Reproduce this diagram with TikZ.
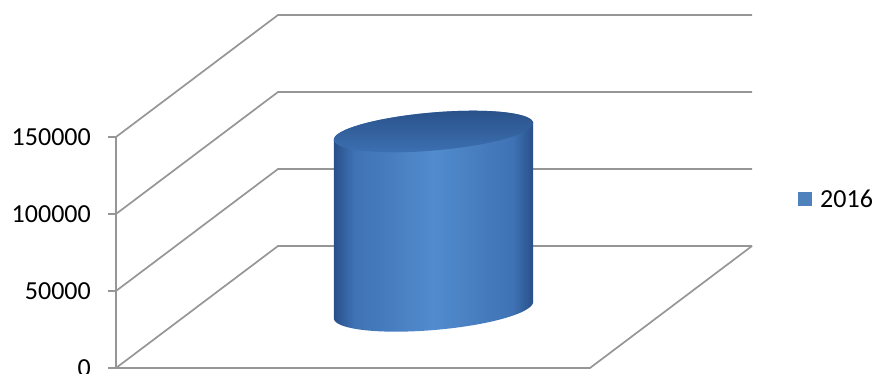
\documentclass[tikz,border=0pt]{standalone}
\usepackage{fontspec}
\setmainfont{Carlito}
\definecolor{gridgray}{RGB}{150,150,150}
\definecolor{legblue}{RGB}{79,129,189}
\definecolor{cyldark}{RGB}{40,80,138}
\definecolor{cylmid}{RGB}{62,114,180}
\definecolor{cyllight}{RGB}{82,140,206}
\definecolor{topdark}{RGB}{42,82,138}
\definecolor{topmid}{RGB}{60,112,178}
\pgfdeclarehorizontalshading{cylshade}{100bp}{color(0bp)=(cyldark); color(25bp)=(cyldark); color(30bp)=(cylmid); color(50bp)=(cyllight); color(70bp)=(cylmid); color(75bp)=(cyldark); color(100bp)=(cyldark)}
\begin{document}
\begin{tikzpicture}[x=1pt,y=1pt,
  grid/.style={draw=gridgray, line width=1.7pt},
  axislabel/.style={anchor=east, font=\fontsize{26}{31}\selectfont, inner sep=0pt},
  legtext/.style={anchor=west, font=\fontsize{26}{31}\selectfont, inner sep=0pt}]
\useasboundingbox (0,0) rectangle (875,374);
% walls and floor
\foreach \i/\lab in {0/0,1/50000,2/100000,3/150000} {
  \pgfmathsetmacro\Y{6+77*\i}
  \coordinate (f\i) at (116,\Y);
  \coordinate (b\i) at (278,\Y+122);
  \coordinate (r\i) at (752,\Y+122);
  \coordinate (t\i) at (108,\Y);
  \draw[grid] (f\i) -- (b\i) -- (r\i);
  \draw[grid] (t\i) -- (f\i);
  \node[axislabel] (l\i) at (91,\Y) {\lab};
}
\coordinate (fr) at (590,6);
\draw[grid] (f0) -- (f3);
\draw[grid] (f0) -- (fr) -- (r0);
% cylinder
\def\cx{433.5}\def\ct{242.5}\def\cb{64}\def\ea{100}\def\tb{19}\def\bb{20}\def\th{4.9}
\shade[shading=cylshade]
  plot[domain=0:180, samples=61, smooth]
    ({\cx+\ea*cos(\x)*cos(\th)-\tb*sin(\x)*sin(\th)},{\ct+\ea*cos(\x)*sin(\th)+\tb*sin(\x)*cos(\th)})
  -- plot[domain=180:360, samples=61, smooth]
    ({\cx+\ea*cos(\x)*cos(\th)-\bb*sin(\x)*sin(\th)},{\cb+\ea*cos(\x)*sin(\th)+\bb*sin(\x)*cos(\th)})
  -- cycle;
\shade[top color=topdark, bottom color=topmid]
  plot[domain=0:360, samples=121, smooth]
    ({\cx+\ea*cos(\x)*cos(\th)-\tb*sin(\x)*sin(\th)},{\ct+\ea*cos(\x)*sin(\th)+\tb*sin(\x)*cos(\th)})
  -- cycle;
% legend
\fill[legblue] (798,168) rectangle (812,182);
\node[legtext] (leg) at (820,175) {2016};
\end{tikzpicture}
\end{document}
